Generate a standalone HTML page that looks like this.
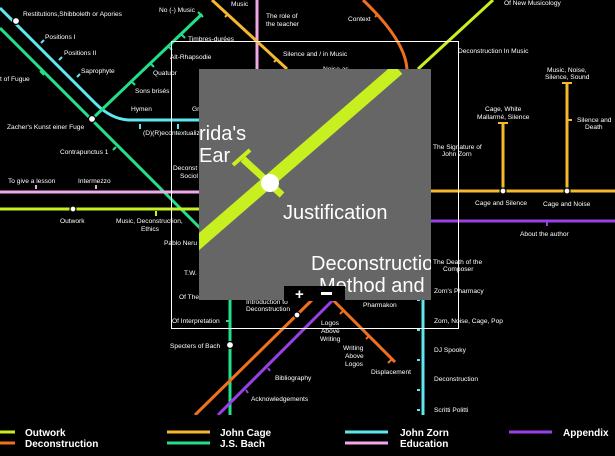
<!DOCTYPE html>
<html><head><meta charset="utf-8"><style>
html,body{margin:0;padding:0;background:#000;}
svg{display:block;font-family:"Liberation Sans",sans-serif;}
.t{fill:#fff;font-size:6.6px;}
.lg{fill:#fff;font-size:10px;font-weight:bold;}
</style></head><body>
<svg width="615" height="456" viewBox="0 0 615 456" xmlns="http://www.w3.org/2000/svg">
<rect width="615" height="456" fill="#000"/>
<g fill="none" stroke-width="3">
<path d="M0,8 L95,103 Q112,120 130,120 L200,120" stroke="#5ee8f0"/>
<path d="M0,28 L200,228" stroke="#22e08a"/>
<path d="M202,14 L92,119" stroke="#22e08a"/>
<path d="M230,300 L230,415" stroke="#22e08a"/>
<path d="M0,192 L200,192" stroke="#f0a8e8"/>
<path d="M257,0 L257,69" stroke="#f0a8e8"/>
<path d="M0,209 L200,209" stroke="#c8f020"/>
<path d="M418,69 L493,0" stroke="#c8f020"/>
<path d="M212,0 L287,69" stroke="#f5b82e"/>
<path d="M430,191 L615,191" stroke="#f5b82e"/>
<path d="M503,123 L503,191 M567,83 L567,191" stroke="#f5b82e"/>
<path d="M363,0 Q405,40 407,69" stroke="#f07020"/>
<path d="M195,415 L312,300" stroke="#f07020"/>
<path d="M333,300 L395,362" stroke="#f07020"/>
<path d="M430,221 L615,221" stroke="#9a40e8"/>
<path d="M218,415 L335,298" stroke="#9a40e8"/>
<path d="M423,300 L423,415" stroke="#5ee8f0"/>
</g>
<g stroke-width="2" fill="none">
<path d="M40,71 L44,75" stroke="#22e08a"/>
<path d="M41,43 l3,-3 M59,60 l3,-3 M77,77 l3,-3" stroke="#5ee8f0"/>
<path d="M140,124 l0,5 M178,124 l0,5" stroke="#5ee8f0"/>
<path d="M181,34 l4,4 M168,46 l4,4 M150,63 l4,4 M131,81 l4,4 M198,12 l5,5" stroke="#22e08a"/>
<path d="M113,150 l3,-3" stroke="#22e08a"/>
<path d="M36,189 l0,-4 M96,189 l0,-4" stroke="#f0a8e8"/>
<path d="M156,211 l0,5" stroke="#c8f020"/>
<path d="M228,14 l-3,3 M277,59 l-3,3" stroke="#f5b82e"/>
<path d="M378,14 l-3,3" stroke="#f07020"/>
<path d="M498,123 l10,0 M562,83 l10,0 M567,120 l5,0" stroke="#f5b82e"/>
<path d="M547,221 l0,5" stroke="#9a40e8"/>
<path d="M226,321 l4,0" stroke="#22e08a"/>
<path d="M420,300 l-3,0 M420,330 l-3,0 M420,360 l-3,0 M420,390 l-3,0 M420,410 l-3,0" stroke="#5ee8f0"/>
<path d="M268,368 l2,3 M246,390 l2,3" stroke="#9a40e8"/>
<path d="M343,311 l-3,3 M369,336 l-3,3 M392,359 l-4,4" stroke="#f07020"/>
</g>
<g fill="#fff" stroke="#000" stroke-width="1.2">
<circle cx="16" cy="21" r="3.5"/>
<circle cx="92" cy="119" r="3.5"/>
<circle cx="73" cy="209" r="3"/>
<circle cx="503" cy="191" r="3"/>
<circle cx="567" cy="191" r="3"/>
<circle cx="297" cy="315" r="3"/>
<circle cx="230" cy="345" r="3.5"/>
</g>
<rect x="171.5" y="41.5" width="287" height="287" fill="none" stroke="#fff" stroke-width="1"/>
<g class="t">
<text x="23" y="16">Restitutions,Shibboleth or Apories</text>
<text x="45" y="39">Positions I</text>
<text x="64" y="55">Positions II</text>
<text x="81" y="73">Saprophyte</text>
<text x="0" y="81">t of Fugue</text>
<text x="7" y="129">Zacher's Kunst einer Fuge</text>
<text x="60" y="154">Contrapunctus 1</text>
<text x="8" y="183">To give a lesson</text>
<text x="78" y="183">Intermezzo</text>
<text x="60" y="223">Outwork</text>
<text x="116" y="223">Music, Deconstruction,</text>
<text x="141" y="231">Ethics</text>
<text x="159" y="12">No (-) Music</text>
<text x="188" y="41">Timbres-durées</text>
<text x="170" y="59">Alt-Rhapsodie</text>
<text x="153" y="75">Quatuor</text>
<text x="135" y="93">Sons brisés</text>
<text x="131" y="111">Hymen</text>
<text x="192" y="111">Gr</text>
<text x="143" y="135">(D)(R)econtextualiz</text>
<text x="173" y="170">Deconst</text>
<text x="180" y="178">Sociol</text>
<text x="164" y="245">Pablo Neru</text>
<text x="184" y="275">T.W.</text>
<text x="179" y="299">Of The</text>
<text x="172" y="323">Of Interpretation</text>
<text x="170" y="348">Specters of Bach</text>
<text x="275" y="380">Bibliography</text>
<text x="251" y="401">Acknowledgements</text>
<text x="246" y="304">Introduction to</text>
<text x="246" y="311">Deconstruction</text>
<text x="363" y="307">Pharmakon</text>
<text x="321" y="325">Logos</text>
<text x="321" y="333">Above</text>
<text x="320" y="341">Writing</text>
<text x="343" y="350">Writing</text>
<text x="345" y="358">Above</text>
<text x="345" y="366">Logos</text>
<text x="371" y="374">Displacement</text>
<text x="231" y="6">Music</text>
<text x="266" y="18">The role of</text>
<text x="266" y="26">the teacher</text>
<text x="283" y="56">Silence and / in Music</text>
<text x="323" y="71">Noise as</text>
<text x="348" y="21">Context</text>
<text x="458" y="53">Deconstruction In Music</text>
<text x="504" y="5">Of New Musicology</text>
<text x="547" y="72">Music, Noise,</text>
<text x="545" y="79">Silence, Sound</text>
<text x="485" y="111">Cage, White</text>
<text x="477" y="119">Mallarmé, Silence</text>
<text x="577" y="122">Silence and</text>
<text x="585" y="129">Death</text>
<text x="433" y="149">The Signature of</text>
<text x="442" y="156">John Zorn</text>
<text x="475" y="205">Cage and Silence</text>
<text x="543" y="206">Cage and Noise</text>
<text x="520" y="236">About the author</text>
<text x="433" y="264">The Death of the</text>
<text x="443" y="271">Composer</text>
<text x="434" y="293">Zorn's Pharmacy</text>
<text x="434" y="323">Zorn, Noise, Cage, Pop</text>
<text x="434" y="352">DJ Spooky</text>
<text x="434" y="381">Deconstruction</text>
<text x="434" y="412">Scritti Politti</text>
</g>
<rect x="199" y="69" width="232" height="231" fill="#666"/>
<svg x="199" y="69" width="232" height="231" overflow="hidden">
<path d="M-5,177 L199,0" stroke="#c8f020" stroke-width="13" fill="none"/>
<path d="M34,96 L51,81" stroke="#c8f020" stroke-width="4"/>
<path d="M44,90 L83,126" stroke="#c8f020" stroke-width="7"/>
<circle cx="71" cy="114" r="9" fill="#fff"/>
<text x="0" y="71" fill="#fff" font-size="20">rida's</text>
<text x="0" y="93" fill="#fff" font-size="20">Ear</text>
<text x="84" y="150" fill="#fff" font-size="20">Justification</text>
<text x="112" y="201" fill="#fff" font-size="20">Deconstruction</text>
<text x="120" y="223" fill="#fff" font-size="20">Method and</text>
</svg>
<rect x="284" y="286" width="61" height="15" fill="#000"/>
<text x="295" y="299" fill="#fff" font-size="15" font-weight="bold">+</text>
<rect x="321" y="292" width="11" height="3" fill="#fff"/>
<rect x="0" y="415" width="615" height="41" fill="#000"/>
<g stroke-width="3">
<path d="M0,432 L15,432" stroke="#c8f020"/>
<path d="M0,443 L15,443" stroke="#f07020"/>
<path d="M167,432 L210,432" stroke="#f5b82e"/>
<path d="M167,443 L210,443" stroke="#22e08a"/>
<path d="M345,432 L388,432" stroke="#5ee8f0"/>
<path d="M345,443 L388,443" stroke="#f0a8e8"/>
<path d="M509,432 L552,432" stroke="#9a40e8"/>
</g>
<g class="lg">
<text x="25" y="436">Outwork</text>
<text x="25" y="447">Deconstruction</text>
<text x="220" y="436">John Cage</text>
<text x="220" y="447">J.S. Bach</text>
<text x="400" y="436">John Zorn</text>
<text x="400" y="447">Education</text>
<text x="563" y="436">Appendix</text>
</g>
</svg>
</body></html>
